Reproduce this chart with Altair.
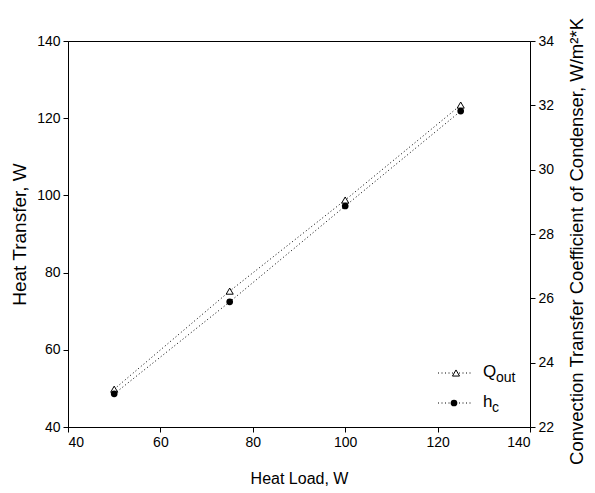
import altair as alt
import pandas as pd

heat_load = [50, 75, 100, 125]
q_out = [49.8, 75.2, 98.8, 123.4]
h_c = [23.03, 25.89, 28.87, 31.82]

df = pd.DataFrame({"load": heat_load, "q": q_out, "h": h_c})

FONT = "Liberation Sans"
W, H = 462, 386
DASH = [1, 2.5]

x = alt.X("load:Q", scale=alt.Scale(domain=[40, 140], nice=False, zero=False),
          axis=alt.Axis(title="Heat Load, W", values=[40, 60, 80, 100, 120, 140],
                        titlePadding=21, titleFontSize=16))

base = alt.Chart(df)

q_line = base.mark_line(color="black", strokeWidth=1, strokeDash=DASH).encode(
    x=x,
    y=alt.Y("q:Q", scale=alt.Scale(domain=[40, 140], nice=False, zero=False),
            axis=alt.Axis(title="Heat Transfer, W", values=[40, 60, 80, 100, 120, 140],
                          orient="left", titlePadding=7, titleFontSize=19)))
q_pts = base.mark_point(shape="triangle-up", filled=True, fill="white", stroke="black",
                        strokeWidth=1, size=50, opacity=1).encode(x=x, y="q:Q")

h_line = base.mark_line(color="black", strokeWidth=1, strokeDash=DASH).encode(
    x=x,
    y=alt.Y("h:Q", scale=alt.Scale(domain=[22, 34], nice=False, zero=False),
            axis=alt.Axis(title="Convection Transfer Coefficient of Condenser, W/m²*K",
                          values=[22, 24, 26, 28, 30, 32, 34], orient="right",
                          titleAngle=270, titleBaseline="top", titleY=200,
                          titlePadding=14, titleFontSize=18.5)))
h_pts = base.mark_point(shape="circle", filled=True, color="black", size=45,
                        opacity=1).encode(x=x, y="h:Q")

# manual legend (pixel positions inside the plot area)
leg = pd.DataFrame({"k": [0]})
lg = alt.Chart(leg)
leg_q_line = lg.mark_rule(color="black", strokeWidth=1, strokeDash=DASH).encode(
    x=alt.value(370), x2=alt.value(405), y=alt.value(332))
leg_q_pt = lg.mark_point(shape="triangle-up", filled=True, fill="white", stroke="black",
                         strokeWidth=1, size=50, opacity=1).encode(
    x=alt.value(388), y=alt.value(332))
leg_q_t = lg.mark_text(text="Q", font=FONT, fontSize=17, align="left", baseline="middle",
                       color="black").encode(x=alt.value(415), y=alt.value(331))
leg_q_s = lg.mark_text(text="out", font=FONT, fontSize=14, align="left", baseline="middle",
                       color="black").encode(x=alt.value(428), y=alt.value(337))
leg_h_line = lg.mark_rule(color="black", strokeWidth=1, strokeDash=DASH).encode(
    x=alt.value(370), x2=alt.value(403), y=alt.value(362))
leg_h_pt = lg.mark_point(shape="circle", filled=True, color="black", size=45,
                         opacity=1).encode(x=alt.value(386), y=alt.value(362))
leg_h_t = lg.mark_text(text="h", font=FONT, fontSize=17, align="left", baseline="middle",
                       color="black").encode(x=alt.value(415), y=alt.value(361))
leg_h_s = lg.mark_text(text="c", font=FONT, fontSize=14, align="left", baseline="middle",
                       color="black").encode(x=alt.value(424), y=alt.value(367))

left = alt.layer(q_line, q_pts)
right = alt.layer(h_line, h_pts)
legend = alt.layer(leg_q_line, leg_q_pt, leg_q_t, leg_q_s,
                   leg_h_line, leg_h_pt, leg_h_t, leg_h_s)

chart = alt.layer(left, right, legend).resolve_scale(y="independent").properties(
    width=W, height=H,
    autosize=alt.AutoSizeParams(type="none"),
    padding={"left": 60, "top": 33, "right": 57, "bottom": 60},
).configure_view(stroke="black", strokeWidth=1).configure_axis(
    grid=False, domainColor="black", tickColor="black", tickSize=5,
    labelFont=FONT, labelFontSize=14, labelColor="black", labelPadding=3,
    titleFont=FONT, titleFontWeight="normal", titleColor="black",
)

chart.save("out.html", embed_options={"renderer": "svg", "actions": False})
